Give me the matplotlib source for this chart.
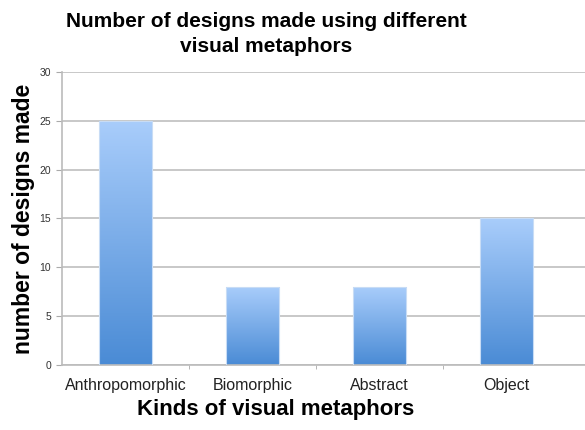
import numpy as np
import matplotlib
matplotlib.use("Agg")
from matplotlib import pyplot as plt
from matplotlib.colors import LinearSegmentedColormap

categories = ["Anthropomorphic", "Biomorphic", "Abstract", "Object"]
designs = [25, 8, 8, 15]
yticks = [0, 5, 10, 15, 20, 25, 30]

plt.rcParams["font.family"] = ["Liberation Sans", "DejaVu Sans"]

fig = plt.figure(figsize=(5.85, 4.3), dpi=100)
ax = fig.add_axes([0.106, 0.151, 0.894, 0.682])

grad = LinearSegmentedColormap.from_list("bar", ["#4a8bd5", "#a9cdfb"])
x = np.arange(len(categories))
bars = ax.bar(x, designs, width=0.42, color="none", edgecolor="#c8dcf5",
              linewidth=0.8, zorder=3)
for b in bars:
    x0, y0 = b.get_x(), b.get_y()
    w, h = b.get_width(), b.get_height()
    img = ax.imshow(np.linspace(0, 1, 256).reshape(-1, 1), cmap=grad,
                    origin="lower", aspect="auto",
                    extent=(x0, x0 + w, y0, y0 + h), zorder=2)
    img.set_clip_path(b)

ax.set_xlim(-0.5, 3.62)
ax.set_ylim(0, 30)
ax.set_yticks(yticks)
ax.set_yticklabels([str(t) for t in yticks], fontsize=7.5, color="#333333")
ax.set_xticks(x)
ax.set_xticklabels(categories, fontsize=11.5, color="#222222")
ax.tick_params(axis="x", length=0, pad=9)
ax.set_xticks(x[:-1] + 0.5, minor=True)
ax.tick_params(axis="x", which="minor", length=3, color="#aaaaaa")
ax.tick_params(axis="y", length=4, color="#aaaaaa", pad=4)

ax.grid(axis="y", color="#c8c8c8", linewidth=1.4, zorder=0)
ax.set_axisbelow(True)
for side in ["top", "right"]:
    ax.spines[side].set_visible(False)
for side in ["left", "bottom"]:
    ax.spines[side].set_color("#bbbbbb")
    ax.spines[side].set_linewidth(1.2)

ax.set_ylabel("number of designs made", fontsize=16.5, fontweight="bold", labelpad=3)
fig.text(0.472, 0.047, "Kinds of visual metaphors", ha="center", va="center",
         fontsize=16, fontweight="bold")
fig.text(0.455, 0.972, "Number of designs made using different\nvisual metaphors",
         ha="center", va="top", fontsize=15, fontweight="bold", linespacing=1.4)

fig.savefig("out.png", dpi=100)
